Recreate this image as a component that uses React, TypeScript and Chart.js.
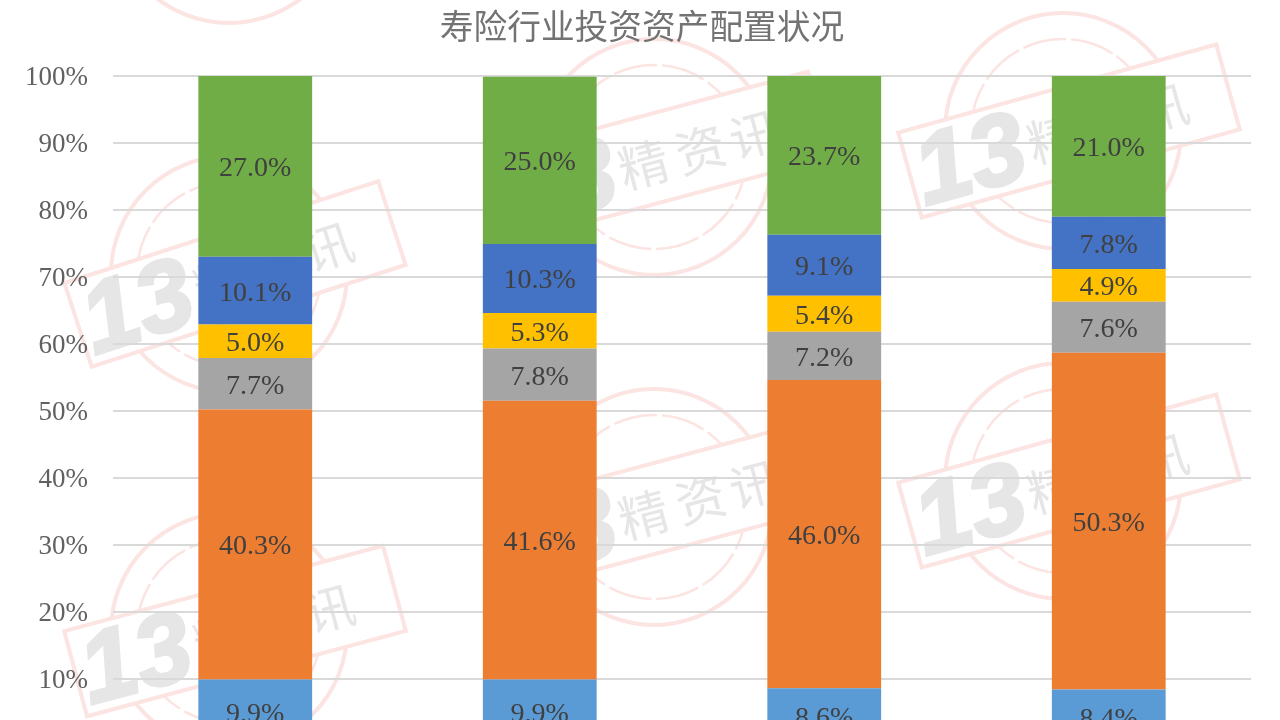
import React, { useEffect, useRef } from "react";
import { Chart, registerables } from "chart.js";

Chart.register(...registerables);

const chartTitle = "寿险行业投资资产配置状况";
// The category names sit below the photographed area, so they are placeholders and hidden.
const categories = ["1", "2", "3", "4"];
const series1 = [9.9, 9.9, 8.6, 8.4];
const series2 = [40.3, 41.6, 46.0, 50.3];
const series3 = [7.7, 7.8, 7.2, 7.6];
const series4 = [5.0, 5.3, 5.4, 4.9];
const series5 = [10.1, 10.3, 9.1, 7.8];
const series6 = [27.0, 25.0, 23.7, 21.0];
const seriesColors = ["#5B9BD5", "#ED7D31", "#A5A5A5", "#FFC000", "#4472C4", "#70AD47"];
// watermark stamps: centre x, centre y, tilt in degrees
const stamps = [
  [235, -95, 15],
  [235, 274, 18],
  [235, 631, 15],
  [660, 157, 15],
  [660, 507, 15],
  [1069, 131, 15.5],
  [1069, 481, 15.5],
];

const SERIF = '"Liberation Serif", serif';

function drawStamp(ctx: CanvasRenderingContext2D, cx: number, cy: number, tilt: number) {
  ctx.save();
  ctx.strokeStyle = "#FBE4E1";
  ctx.lineWidth = 4;
  ctx.beginPath();
  ctx.arc(cx - 6, cy, 118, 0, Math.PI * 2);
  ctx.stroke();
  ctx.lineWidth = 2.5;
  ctx.setLineDash([44, 5]);
  ctx.beginPath();
  ctx.arc(cx - 6, cy, 92, 0, Math.PI * 2);
  ctx.stroke();
  ctx.setLineDash([]);
  ctx.translate(cx, cy);
  ctx.rotate((-tilt * Math.PI) / 180);
  ctx.fillStyle = "#FFFFFF";
  ctx.fillRect(-165, -44, 330, 88);
  ctx.lineWidth = 4;
  ctx.strokeRect(-165, -44, 330, 88);
  ctx.fillStyle = "#E6E6E6";
  ctx.strokeStyle = "#E6E6E6";
  ctx.textAlign = "center";
  ctx.textBaseline = "middle";
  ctx.font = 'italic bold 100px "Liberation Sans", sans-serif';
  ctx.lineWidth = 3;
  ctx.strokeText("13", -103, 6);
  ctx.fillText("13", -103, 6);
  ctx.font = '50px "Noto Sans CJK SC", sans-serif';
  ctx.fillText("精", -18, 3);
  ctx.fillText("资", 41, 3);
  ctx.fillText("讯", 97, 3);
  ctx.restore();
}

const stampPlugin = {
  id: "stamps",
  beforeDraw(chart: any) {
    const { ctx, width, height } = chart;
    ctx.save();
    ctx.fillStyle = "#FFFFFF";
    ctx.fillRect(0, 0, width, height);
    stamps.forEach(([x, y, t]) => drawStamp(ctx, x, y, t));
    ctx.fillStyle = "#737373";
    ctx.font = '33.7px "Noto Sans CJK SC", sans-serif';
    ctx.textAlign = "center";
    ctx.textBaseline = "middle";
    ctx.fillText(chartTitle, 642, 26);
    ctx.restore();
  },
};

const valueLabelPlugin = {
  id: "valueLabels",
  afterDatasetsDraw(chart: any) {
    const { ctx } = chart;
    ctx.save();
    ctx.fillStyle = "#404040";
    ctx.font = `28px ${SERIF}`;
    ctx.textAlign = "center";
    ctx.textBaseline = "middle";
    chart.data.datasets.forEach((ds: any, i: number) => {
      chart.getDatasetMeta(i).data.forEach((bar: any, j: number) => {
        const p = bar.getProps(["x", "y", "base"], true);
        ctx.fillText(`${ds.data[j].toFixed(1)}%`, p.x, (p.y + p.base) / 2 + 2.5);
      });
    });
    ctx.restore();
  },
};

export default function App() {
  const ref = useRef<HTMLCanvasElement>(null);
  useEffect(() => {
    const all = [series1, series2, series3, series4, series5, series6];
    const chart = new Chart(ref.current!, {
      type: "bar",
      data: {
        labels: categories,
        datasets: all.map((data, i) => ({
          label: `系列${i + 1}`,
          data,
          backgroundColor: seriesColors[i],
          borderWidth: 0,
          categoryPercentage: 1,
          barPercentage: 0.4,
        })),
      },
      options: {
        responsive: false,
        animation: false,
        layout: { padding: { left: 0, right: 29, top: 76, bottom: 34 } },
        plugins: {
          legend: { display: false },
          tooltip: { enabled: false },
          title: { display: false },
        },
        scales: {
          x: { stacked: true, display: false },
          y: {
            stacked: true,
            min: 0,
            max: 100,
            afterFit(scale: any) {
              scale.width = 113;
            },
            border: { display: false },
            grid: { color: "#D9D9D9", lineWidth: 2, drawTicks: false },
            ticks: {
              stepSize: 10,
              padding: 25,
              labelOffset: 2,
              color: "#616161",
              font: { family: SERIF, size: 27 },
              callback: (v: any) => `${v}%`,
            },
          },
        },
      },
      plugins: [stampPlugin, valueLabelPlugin],
    } as any);
    return () => chart.destroy();
  }, []);
  return (
    <div style={{ position: "absolute", left: 0, top: 0, width: 1280, height: 720, overflow: "hidden" }}>
      <canvas ref={ref} width={1280} height={787} style={{ display: "block", width: 1280, height: 787 }} />
    </div>
  );
}
